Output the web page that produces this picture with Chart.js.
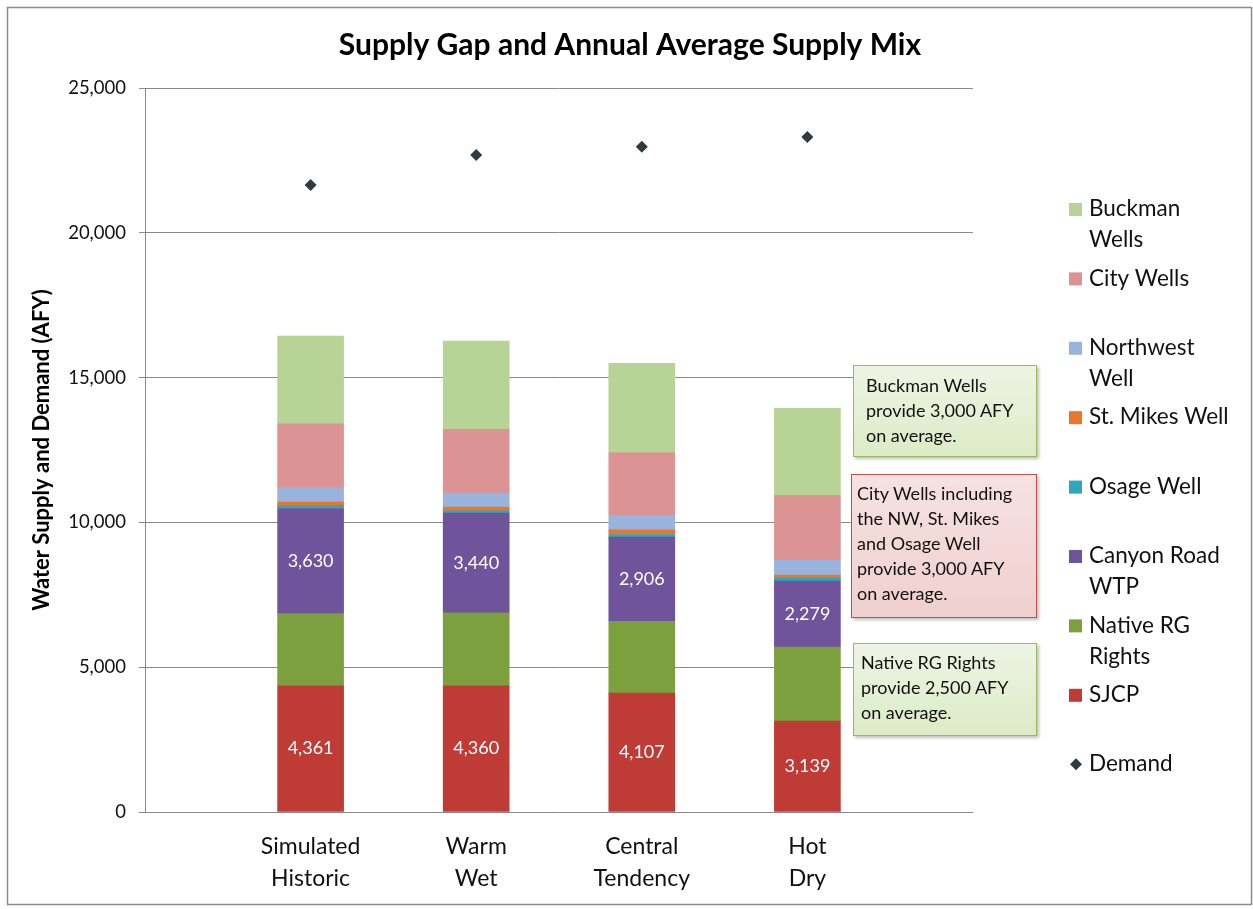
<!DOCTYPE html>
<html>
<head>
<meta charset="utf-8">
<script src="https://cdn.jsdelivr.net/npm/chart.js@4.4.1/dist/chart.umd.min.js"></script>
<style>
  html, body { margin: 0; padding: 0; background: #fff; }
  #wrap { position: relative; width: 1253px; height: 909px; }
  .note {
    position: absolute;
    box-sizing: border-box;
    font-family: Lato, 'Open Sans', sans-serif;
    font-size: 18px;
    line-height: 25px;
    color: #111;
    box-shadow: 2px 2px 3px rgba(0, 0, 0, 0.25);
  }
  .note.green {
    background: linear-gradient(#eef4e4, #dcebc6);
    border: 1.5px solid #9bbb59;
  }
  .note.red {
    background: linear-gradient(#f6e2e1, #efd0cf);
    border: 1.5px solid #c0504d;
  }
</style>
</head>
<body>
<div id="wrap">
  <canvas id="chart-supply" width="1253" height="909"></canvas>
  <div class="note green" style="left:853px; top:365px; width:184px; height:92px; padding:7px 0 0 12px;">Buckman Wells<br>provide 3,000 AFY<br>on average.</div>
  <div class="note red" style="left:851px; top:474px; width:186px; height:144px; padding:6px 0 0 5px;">City Wells including<br>the NW, St. Mikes<br>and Osage Well<br>provide 3,000 AFY<br>on average.</div>
  <div class="note green" style="left:853px; top:643px; width:184px; height:93px; padding:6px 0 0 7px;">Native RG Rights<br>provide 2,500 AFY<br>on average.</div>
</div>
<script>
const chartTitle = 'Supply Gap and Annual Average Supply Mix';
const scenarios = [['Simulated', 'Historic'], ['Warm', 'Wet'], ['Central', 'Tendency'], ['Hot', 'Dry']];

const sjcp       = [4361, 4360, 4107, 3139];
const nativeRG   = [2490, 2520, 2480, 2560];
const canyonRoad = [3630, 3440, 2906, 2279];
const osage      = [110, 80, 90, 90];
const stMikes    = [110, 130, 160, 110];
const northwest  = [500, 480, 500, 520];
const cityWells  = [2200, 2200, 2170, 2240];
const buckman    = [3030, 3050, 3080, 3000];
const demand     = [21650, 22690, 22970, 23310];

const yTicks = [0, 5000, 10000, 15000, 20000, 25000];

// empty slot at each end, like the original sheet
const pad = arr => [null, ...arr, null];
const labels = ['', ...scenarios, ''];

function bar(label, data, color, showValues) {
    return {
        type: 'bar',
        label: label,
        data: pad(data),
        backgroundColor: color,
        borderWidth: 0,
        barThickness: 66,
        stack: 'supply',
        showValues: !!showValues,
    };
}

const datasets = [
    bar('SJCP', sjcp, '#be3b36', true),
    bar('Native RG Rights', nativeRG, '#7da03f'),
    bar('Canyon Road WTP', canyonRoad, '#6f549c', true),
    bar('Osage Well', osage, '#2ea6bd'),
    bar('St. Mikes Well', stMikes, '#e8772a'),
    bar('Northwest Well', northwest, '#98b4dc'),
    bar('City Wells', cityWells, '#db9393'),
    bar('Buckman Wells', buckman, '#b7d396'),
    {
        type: 'line',
        label: 'Demand',
        data: pad(demand),
        showLine: false,
        stack: 'demand',
        pointStyle: 'rectRot',
        pointRadius: 6,
        backgroundColor: '#2f3b40',
        borderColor: '#2f3b40',
        borderWidth: 0,
        order: -1,
    },
];

// legend entries top to bottom, wrapped like the reference
const legendItems = [
    { ds: 'Buckman Wells', lines: ['Buckman', 'Wells'] },
    { ds: 'City Wells', lines: ['City Wells'] },
    { ds: 'Northwest Well', lines: ['Northwest', 'Well'] },
    { ds: 'St. Mikes Well', lines: ['St. Mikes Well'] },
    { ds: 'Osage Well', lines: ['Osage Well'] },
    { ds: 'Canyon Road WTP', lines: ['Canyon Road', 'WTP'] },
    { ds: 'Native RG Rights', lines: ['Native RG', 'Rights'] },
    { ds: 'SJCP', lines: ['SJCP'] },
    { ds: 'Demand', lines: ['Demand'] },
];

const frame = {
    id: 'frame',
    beforeDraw(chart) {
        const ctx = chart.ctx;
        ctx.save();
        ctx.fillStyle = '#fff';
        ctx.fillRect(0, 0, chart.width, chart.height);
        ctx.strokeStyle = '#8c8c8c';
        ctx.lineWidth = 1.5;
        ctx.strokeRect(7.5, 7.5, 1244, 897);
        // title is centred on the whole picture, not on the plot
        ctx.fillStyle = '#000';
        ctx.font = 'bold 30px Lato, sans-serif';
        ctx.textAlign = 'center';
        ctx.textBaseline = 'middle';
        ctx.fillText(chartTitle, 630, 45);
        ctx.restore();
    },
};

const valueLabels = {
    id: 'valueLabels',
    afterDatasetsDraw(chart) {
        const ctx = chart.ctx;
        ctx.save();
        ctx.fillStyle = '#fff';
        ctx.font = '18px Lato, sans-serif';
        ctx.textAlign = 'center';
        ctx.textBaseline = 'middle';
        chart.data.datasets.forEach((ds, i) => {
            if (!ds.showValues) return;
            chart.getDatasetMeta(i).data.forEach((el, j) => {
                const v = ds.data[j];
                if (v == null) return;
                ctx.fillText(v.toLocaleString('en-US'), el.x, (el.y + el.base) / 2);
            });
        });
        ctx.restore();
    },
};

const sideLegend = {
    id: 'sideLegend',
    afterDraw(chart) {
        const ctx = chart.ctx;
        ctx.save();
        ctx.font = '22.5px Lato, sans-serif';
        ctx.textBaseline = 'middle';
        legendItems.forEach((item, i) => {
            const y = 209 + i * 69.4;
            const ds = chart.data.datasets.find(d => d.label === item.ds);
            ctx.fillStyle = ds.backgroundColor;
            if (ds.type === 'line') {
                ctx.beginPath();
                ctx.moveTo(1076, y - 6);
                ctx.lineTo(1082, y);
                ctx.lineTo(1076, y + 6);
                ctx.lineTo(1070, y);
                ctx.closePath();
                ctx.fill();
            } else {
                ctx.fillRect(1069, y - 6, 13, 13);
            }
            ctx.fillStyle = '#111';
            item.lines.forEach((t, k) => ctx.fillText(t, 1089, y + k * 31));
        });
        ctx.restore();
    },
};

Chart.defaults.font.family = 'Lato, "Open Sans", sans-serif';
Chart.defaults.color = '#111';

new Chart(document.getElementById('chart-supply'), {
    data: { labels: labels, datasets: datasets },
    options: {
        responsive: false,
        animation: false,
        layout: { padding: { left: 20, right: 280, top: 88, bottom: 0 } },
        plugins: {
            legend: { display: false },
            tooltip: { enabled: false },
            title: { display: false },
        },
        scales: {
            x: {
                stacked: true,
                offset: false,
                grid: { display: false, drawTicks: false },
                border: { display: false },
                ticks: {
                    autoSkip: false,
                    maxRotation: 0,
                    padding: 19,
                    font: { size: 23, lineHeight: 1.39 },
                    color: '#111',
                },
                afterFit(scale) { scale.height = 97; },
            },
            y: {
                stacked: true,
                min: 0,
                max: 25000,
                afterBuildTicks(scale) { scale.ticks = yTicks.map(v => ({ value: v })); },
                grid: { color: '#8a8a8a', lineWidth: 1, drawTicks: true, tickLength: 6, tickColor: '#8a8a8a' },
                border: { display: true, color: '#8a8a8a' },
                ticks: {
                    padding: 13,
                    font: { size: 18.5 },
                    color: '#111',
                    callback: v => v.toLocaleString('en-US'),
                },
                title: {
                    display: true,
                    text: 'Water Supply and Demand (AFY)',
                    color: '#000',
                    font: { size: 22, weight: 'bold' },
                    padding: { top: 9, bottom: 0 },
                },
                afterFit(scale) { scale.width = 125; },
            },
        },
    },
    plugins: [frame, valueLabels, sideLegend],
});
</script>
</body>
</html>
